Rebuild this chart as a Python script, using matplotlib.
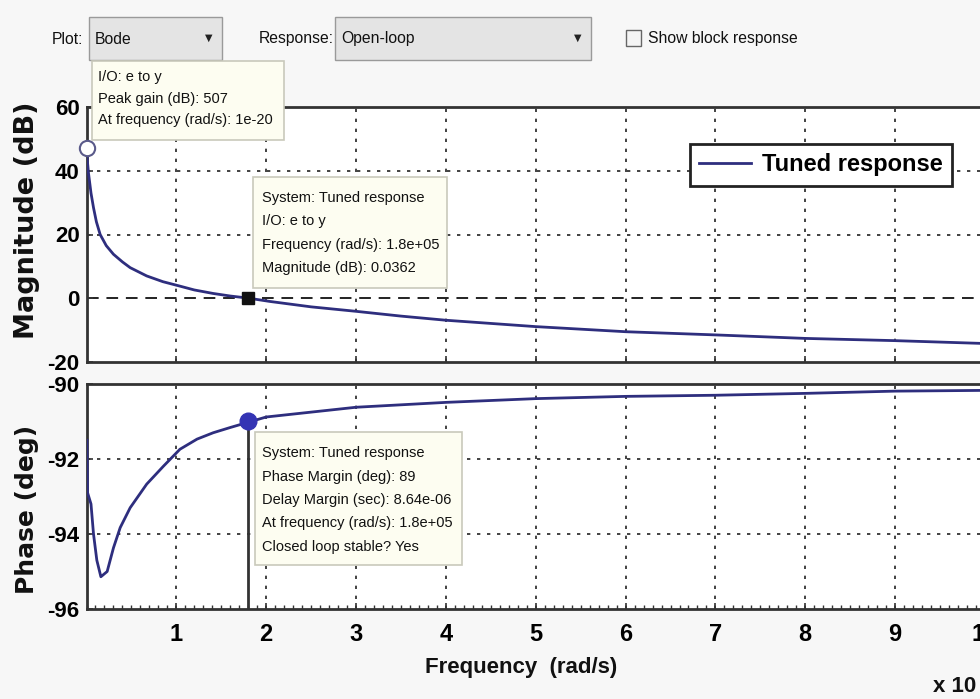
import numpy as np
import matplotlib.pyplot as plt
from matplotlib.patches import Rectangle, FancyBboxPatch

plt.rcParams["axes.unicode_minus"] = False

W, H = 980, 699

# open-loop response, frequency in units of 1e5 rad/s
mag_freq = [0.0, 0.01, 0.022, 0.05, 0.078, 0.11, 0.152, 0.22, 0.30, 0.40, 0.486,
            0.67, 0.85, 1.04, 1.2, 1.41, 1.6, 1.8, 2.04, 2.5, 3.0, 3.5, 4.0, 5.0,
            6.0, 7.0, 8.0, 9.0, 10.0]
mag_db = [47.0, 43.0, 39.3, 33.0, 28.4, 24.0, 20.0, 16.5, 13.8, 11.4, 9.6,
          7.0, 5.2, 3.8, 2.6, 1.5, 0.7, 0.04, -1.0, -2.7, -4.1, -5.6, -6.9, -8.9,
          -10.5, -11.5, -12.6, -13.3, -14.2]

ph_freq = [0.005, 0.012, 0.05, 0.078, 0.115, 0.16, 0.23, 0.30, 0.375, 0.486, 0.67,
           0.857, 1.04, 1.23, 1.41, 1.6, 1.8, 2.0, 3.0, 4.0, 5.0, 6.0, 7.0, 8.0,
           9.0, 10.0]
ph_deg = [-91.5, -92.9, -93.2, -94.0, -94.7, -95.14, -95.0, -94.37, -93.83, -93.3,
          -92.67, -92.19, -91.74, -91.47, -91.3, -91.16, -91.02, -90.88, -90.62,
          -90.49, -90.39, -90.33, -90.30, -90.25, -90.19, -90.17]

mag_ticks = [-20, 0, 20, 40, 60]
ph_ticks = [-96, -94, -92, -90]
freq_ticks = [1, 2, 3, 4, 5, 6, 7, 8, 9, 10]

peak = (0.0, 47.0)
gm_point = (1.8, 0.0362)
pm_point = (1.8, -91.0)

tip_peak = ["I/O: e to y", "Peak gain (dB): 507", "At frequency (rad/s): 1e-20"]
tip_mag = ["System: Tuned response", "I/O: e to y",
           "Frequency (rad/s): 1.8e+05", "Magnitude (dB): 0.0362"]
tip_ph = ["System: Tuned response", "Phase Margin (deg): 89",
          "Delay Margin (sec): 8.64e-06", "At frequency (rad/s): 1.8e+05",
          "Closed loop stable? Yes"]

LINE = "#2e2e7e"
SANS = ["Liberation Sans", "DejaVu Sans"]


def fx(x):
    return x / W


def fy(y):
    return 1 - y / H


fig = plt.figure(figsize=(W / 100, H / 100), dpi=100, facecolor="#f7f7f7")

ax1 = fig.add_axes([fx(86.5), fy(362), (985 - 86.5) / W, 255 / H])
ax2 = fig.add_axes([fx(86.5), fy(609), (985 - 86.5) / W, 225 / H])

for ax in (ax1, ax2):
    ax.set_facecolor("white")
    ax.set_xlim(0, 10)
    ax.set_xticks(freq_ticks)
    for s in ax.spines.values():
        s.set_linewidth(2)
        s.set_color("#333333")
    ax.tick_params(direction="in", length=4, width=1.2, color="#333333")
    for x in freq_ticks[:-1]:
        ax.axvline(x, color="#222222", lw=1.2, ls=(0, (2, 4)), zorder=1)

# magnitude
ax1.set_ylim(-20, 60)
ax1.set_yticks(mag_ticks)
ax1.tick_params(labelbottom=False)
for y in (20, 40):
    ax1.axhline(y, color="#222222", lw=1.2, ls=(0, (2, 4)), zorder=1)
ax1.axhline(0, color="#222222", lw=1.4, ls=(0, (6, 4)), zorder=1)
ln, = ax1.plot(mag_freq, mag_db, color=LINE, lw=2, label="Tuned response", zorder=3)
ax1.plot(*peak, "o", ms=11, mfc="white", mec="#5a5a8a", mew=1.5, clip_on=False, zorder=5)
ax1.plot(*gm_point, "s", ms=9, color="#111111", zorder=5)

# phase
ax2.set_ylim(-96, -90)
ax2.set_yticks(ph_ticks)
for y in (-92, -94):
    ax2.axhline(y, color="#222222", lw=1.2, ls=(0, (2, 4)), zorder=1)
ax2.plot(ph_freq, ph_deg, color=LINE, lw=2, zorder=3)
ax2.plot([pm_point[0], pm_point[0]], [pm_point[1], -96], color="#333333", lw=2, zorder=4)
ax2.plot(*pm_point, "o", ms=12, color="#3434b4", zorder=5)
ax2.set_xticks(np.arange(0, 10.01, 0.1), minor=True)
ax2.tick_params(which="minor", direction="in", length=3, width=1, color="#333333")

for lab in ax1.get_yticklabels() + ax2.get_yticklabels():
    lab.set_fontfamily(SANS)
    lab.set_fontweight("bold")
    lab.set_fontsize(16)
for lab in ax2.get_xticklabels():
    lab.set_fontfamily(SANS)
    lab.set_fontweight("bold")
    lab.set_fontsize(17)
ax1.tick_params(axis="y", pad=5)
ax2.tick_params(axis="y", pad=5)
ax2.tick_params(axis="x", pad=10)

fig.text(fx(27), fy(220), "Magnitude (dB)", rotation=90, ha="center", va="center",
         fontsize=19.5, fontweight="bold", family=["DejaVu Sans"], color="#111111")
fig.text(fx(27), fy(509), "Phase (deg)", rotation=90, ha="center", va="center",
         fontsize=18, fontweight="bold", family=["DejaVu Sans"], color="#111111")
fig.text(fx(521), fy(668), "Frequency  (rad/s)", ha="center", va="center",
         fontsize=16, fontweight="bold", family=SANS, color="#111111")
fig.text(fx(976), fy(686), "x 10", ha="right", va="center",
         fontsize=16, fontweight="bold", family=SANS, color="#111111")

leg = ax1.legend(handles=[ln], loc="upper left", bbox_to_anchor=(fx(690), fy(144)),
                 bbox_transform=fig.transFigure, fancybox=False, framealpha=1,
                 edgecolor="#222222", prop={"family": SANS, "weight": "bold", "size": 17},
                 handlelength=2.2, handletextpad=0.45, borderpad=0.4, borderaxespad=0)
leg.get_frame().set_linewidth(2)


def datatip(x0, y0, x1, y1, lines, tx, ty0, dy):
    fig.patches.append(Rectangle((fx(x0), fy(y1)), fx(x1 - x0), (y1 - y0) / H,
                                 transform=fig.transFigure, facecolor="#fdfdf1",
                                 edgecolor="#c9c9bb", lw=1.2, zorder=10))
    for i, t in enumerate(lines):
        fig.text(fx(tx), fy(ty0 + i * dy), t, ha="left", va="center", fontsize=10.5,
                 family=SANS, color="#111111", zorder=11)


datatip(92, 61, 284, 140, tip_peak, 98, 77, 21.5)
datatip(253, 177, 447, 288, tip_mag, 262, 198, 23.3)
datatip(255, 432, 462, 565, tip_ph, 262, 453, 23.5)


# toolbar above the plot
def dropdown(x0, x1, text):
    fig.patches.append(FancyBboxPatch((fx(x0), fy(60)), fx(x1 - x0), 43 / H,
                                      boxstyle="square,pad=0", transform=fig.transFigure,
                                      facecolor="#e4e4e4", edgecolor="#9a9a9a", lw=1))
    fig.text(fx(x0 + 6), fy(39), text, ha="left", va="center", fontsize=11.3,
             family=SANS, color="#111111")
    fig.text(fx(x1 - 13), fy(38), "\u25bc", ha="center", va="center", fontsize=7,
             family=["DejaVu Sans"], color="#222222")


fig.text(fx(52), fy(39), "Plot:", ha="left", va="center", fontsize=11.3,
         family=SANS, color="#111111")
dropdown(89, 222, "Bode")
fig.text(fx(259), fy(39), "Response:", ha="left", va="center", fontsize=11.3,
         family=SANS, color="#111111")
dropdown(335, 591, "Open-loop")
fig.patches.append(Rectangle((fx(626), fy(46)), fx(15), 16 / H, transform=fig.transFigure,
                             facecolor="#f4f4f4", edgecolor="#666666", lw=1))
fig.text(fx(648), fy(39), "Show block response", ha="left", va="center", fontsize=11.3,
         family=SANS, color="#111111")

fig.savefig("out.png", dpi=100, facecolor=fig.get_facecolor())
